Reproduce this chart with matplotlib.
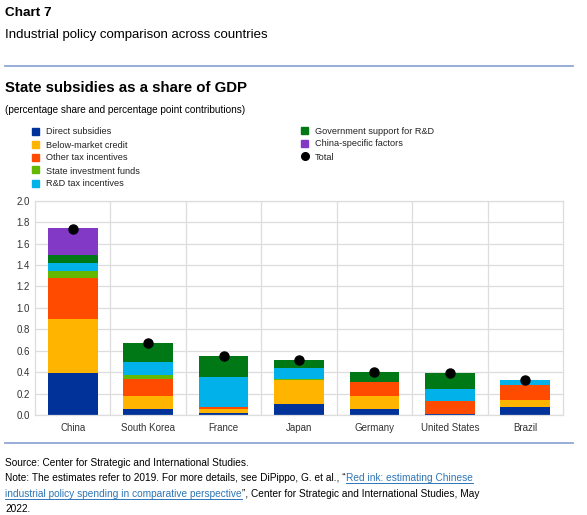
import matplotlib
matplotlib.use("Agg")
import matplotlib.pyplot as plt
import numpy as np
from matplotlib.patches import Rectangle
from matplotlib.lines import Line2D

plt.rcParams['font.family'] = ['Liberation Sans', 'DejaVu Sans']

countries = ['China', 'South Korea', 'France', 'Japan', 'Germany', 'United States', 'Brazil']

direct = [0.39, 0.056, 0.016, 0.106, 0.056, 0.012, 0.075]
credit = [0.51, 0.118, 0.04, 0.221, 0.124, 0.0, 0.065]
other_tax = [0.38, 0.159, 0.019, 0.0, 0.125, 0.116, 0.137]
state_funds = [0.066, 0.04, 0.0, 0.009, 0.0, 0.0, 0.0]
rd_tax = [0.074, 0.122, 0.28, 0.103, 0.0, 0.112, 0.053]
gov_rd = [0.072, 0.177, 0.192, 0.071, 0.095, 0.149, 0.0]
china_specific = [0.249, 0.0, 0.0, 0.0, 0.0, 0.0, 0.0]
total = [1.74, 0.67, 0.55, 0.51, 0.40, 0.39, 0.33]

series = [
    ('Direct subsidies', direct, '#003299'),
    ('Below-market credit', credit, '#FFB400'),
    ('Other tax incentives', other_tax, '#FF4B00'),
    ('State investment funds', state_funds, '#65B800'),
    ('R&D tax incentives', rd_tax, '#00B1EA'),
    ('Government support for R&D', gov_rd, '#007816'),
    ('China-specific factors', china_specific, '#8139C6'),
]

fig = plt.figure(figsize=(5.87, 5.15), dpi=100)
W, H = 587, 515


def fy(px):
    return 1 - px / H


def fx(px):
    return px / W


# header
fig.text(fx(5), fy(13), 'Chart 7', fontsize=9.7, fontweight='bold', va='center')
fig.text(fx(5), fy(35), 'Industrial policy comparison across countries', fontsize=9.5, va='center')
fig.add_artist(Line2D([fx(5), fx(573)], [fy(66), fy(66)], color='#8FA6D6', lw=1.3))
fig.text(fx(5), fy(88), 'State subsidies as a share of GDP', fontsize=10.8, fontweight='bold', va='center')
fig.text(fx(5), fy(110), '(percentage share and percentage point contributions)', fontsize=7.2, va='center')

ax = fig.add_axes([fx(35), fy(415), fx(563) - fx(35), (415 - 200.7) / H])
x = np.arange(len(countries))
bottom = np.zeros(len(countries))
for name, vals, col in series:
    ax.bar(x, vals, 0.66, bottom=bottom, color=col, edgecolor='none', zorder=2)
    bottom += np.array(vals)
ax.plot(x, total, 'o', color='black', markersize=6.5, zorder=3)

ax.set_xlim(-0.5, len(countries) - 0.5)
ax.set_ylim(0, 2.0)
ax.set_yticks(np.arange(0, 2.01, 0.2))
ax.set_yticklabels(['%.1f' % v for v in np.arange(0, 2.01, 0.2)])
ax.set_xticks(x)
ax.set_xticklabels(countries)
ax.set_xticks(np.arange(0.5, len(countries) - 0.5, 1), minor=True)
ax.tick_params(which='both', length=0, labelsize=7.0, colors='#333333')
ax.tick_params(axis='x', pad=6)
ax.grid(True, which='major', axis='y', color='#DDDDDD', lw=0.9, zorder=0)
ax.grid(True, which='minor', axis='x', color='#DDDDDD', lw=0.9, zorder=0)
for s in ax.spines.values():
    s.set_color('#DDDDDD')
    s.set_linewidth(0.9)

# legend, drawn by hand: 5 entries left column, 3 right
legend_items = [(name, col) for name, _, col in series] + [('Total', None)]
cols = [(32, 131, legend_items[:5]), (301, 130, legend_items[5:])]
for x0, y0, items in cols:
    for i, (name, col) in enumerate(items):
        yc = y0 + i * 13
        if col is None:
            fig.add_artist(Line2D([fx(x0 + 3.5)], [fy(yc)], marker='o', color='black', ls='none', markersize=5.5))
        else:
            fig.add_artist(Rectangle((fx(x0), fy(yc + 3.5)), fx(7), 7 / H, color=col))
        fig.text(fx(x0 + 14), fy(yc), name, fontsize=6.6, va='center_baseline', color='#222222')

# footer
fig.add_artist(Line2D([fx(5), fx(573)], [fy(443), fy(443)], color='#8FA6D6', lw=1.3))
fs = 7.3
link = '#2E75B6'
fig.text(fx(5), fy(462), 'Source: Center for Strategic and International Studies.', fontsize=fs, va='center_baseline')

fig.canvas.draw()
r = fig.canvas.get_renderer()


def put(xp, yp, s, color='black', underline=False):
    t = fig.text(fx(xp), fy(yp), s, fontsize=fs, va='center_baseline', color=color)
    bb = t.get_window_extent(r)
    if underline:
        fig.add_artist(Line2D([fx(xp), fx(xp + bb.width)], [fy(yp + 5.5), fy(yp + 5.5)], color=color, lw=0.7))
    return xp + bb.width


xe = put(5, 477, 'Note: The estimates refer to 2019. For more details, see DiPippo, G. et al., \u201c')
put(xe, 477, 'Red ink: estimating Chinese', link, True)
xe = put(5, 493, 'industrial policy spending in comparative perspective', link, True)
put(xe, 493, '\u201d, Center for Strategic and International Studies, May')
put(5, 508, '2022.')

fig.savefig('out.png', dpi=100)
